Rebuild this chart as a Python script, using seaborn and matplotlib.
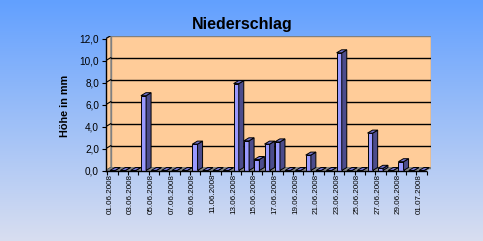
import numpy as np
import matplotlib
matplotlib.use("Agg")
import matplotlib.pyplot as plt
import seaborn as sns
from matplotlib.patches import Polygon, Rectangle

# ---- data ----
dates = ["01.06.2008", "02.06.2008", "03.06.2008", "04.06.2008", "05.06.2008",
         "06.06.2008", "07.06.2008", "08.06.2008", "09.06.2008", "10.06.2008",
         "11.06.2008", "12.06.2008", "13.06.2008", "14.06.2008", "15.06.2008",
         "16.06.2008", "17.06.2008", "18.06.2008", "19.06.2008", "20.06.2008",
         "21.06.2008", "22.06.2008", "23.06.2008", "24.06.2008", "25.06.2008",
         "26.06.2008", "27.06.2008", "28.06.2008", "29.06.2008", "30.06.2008",
         "01.07.2008"]
rain_mm = [0.0, 0.0, 0.0, 6.8, 0.0, 0.0, 0.0, 0.0, 2.4, 0.0,
           0.0, 0.0, 7.9, 2.7, 1.0, 2.4, 2.6, 0.0, 0.0, 1.4,
           0.0, 0.0, 10.7, 0.0, 0.0, 3.4, 0.2, 0.0, 0.8, 0.0,
           0.0]
y_ticks = [0, 2, 4, 6, 8, 10, 12]
title = "Niederschlag"
y_label = "Höhe in mm"

# ---- style ----
sns.set_theme(style="white")
plt.rcParams['font.family'] = ['Liberation Sans', 'DejaVu Sans']

W, H = 483, 241
fig = plt.figure(figsize=(W / 100, H / 100), dpi=100)

# background gradient
bg = fig.add_axes([0, 0, 1, 1], zorder=-10)
t = np.linspace(0, 1, 256)[:, None, None]
c_top = np.array([0x62, 0xA0, 0xFF]) / 255
c_bot = np.array([0xD8, 0xDE, 0xF0]) / 255
img = c_top + (c_bot - c_top) * t
bg.imshow(img, aspect='auto', extent=[0, 1, 0, 1], origin='upper')
bg.axis('off')

# geometry (pixels)
px_x, px_y = 10.3, 11.0
ax_left, ax_right, y_bottom = 106, 431, 170.5
x0 = -0.64
x1 = x0 + (ax_right - ax_left) / px_x
dx = 5 / px_x
dy = 3 / px_y
ymax = 12 + dy
ax_top = y_bottom - ymax * px_y
ax = fig.add_axes([ax_left / W, 1 - y_bottom / H,
                   (ax_right - ax_left) / W, (y_bottom - ax_top) / H])
ax.set_facecolor('none')

front_c = '#9999FF'
side_c = '#4C4C8C'
top_c = '#7373D0'
peach = '#FFCC99'

sns.barplot(x=dates, y=rain_mm, order=dates, width=0.5, color=front_c,
            saturation=1, edgecolor='black', linewidth=0.7, ax=ax, zorder=4)
bars = list(ax.patches)

# walls & floor
ax.add_patch(Rectangle((x0 + dx, dy), x1 - (x0 + dx), 12, facecolor=peach,
                       edgecolor='#808080', linewidth=1, zorder=0))
ax.add_patch(Polygon([(x0, 0), (x0 + dx, dy), (x0 + dx, 12 + dy), (x0, 12)],
                     closed=True, facecolor=peach, edgecolor='#808080',
                     linewidth=1, zorder=0))
ax.add_patch(Polygon([(x0, 0), (x1 - dx, 0), (x1, dy), (x0 + dx, dy)],
                     closed=True, facecolor='#8A8A8A', edgecolor='#808080',
                     linewidth=0.6, zorder=1))
for v in y_ticks[1:-1]:
    ax.plot([x0 + dx, x1], [v + dy, v + dy], color='black', lw=1, zorder=0.5)
for v in y_ticks:
    ax.plot([x0, x0 + dx], [v, v + dy], color='black', lw=0.8, zorder=0.5)

# 3D sides and tops
for i, p in enumerate(bars):
    xl, w, h = p.get_x(), p.get_width(), p.get_height()
    z = 4 + i * 0.01
    ax.add_patch(Polygon([(xl + w, 0), (xl + w + dx, dy), (xl + w + dx, h + dy), (xl + w, h)],
                         closed=True, facecolor=side_c, edgecolor='black',
                         linewidth=0.7, zorder=z))
    ax.add_patch(Polygon([(xl, h), (xl + w, h), (xl + w + dx, h + dy), (xl + dx, h + dy)],
                         closed=True, facecolor=top_c, edgecolor='black',
                         linewidth=0.7, zorder=z))

ax.set_xlim(x0, x1)
ax.set_ylim(0, ymax)
ax.set_xlabel('')
ax.set_ylabel('')

for s in ['top', 'right']:
    ax.spines[s].set_visible(False)
for s in ['left', 'bottom']:
    ax.spines[s].set_visible(True)
    ax.spines[s].set_color('black')
    ax.spines[s].set_linewidth(1)
    ax.spines[s].set_zorder(6)
ax.spines['left'].set_bounds(0, 12)
ax.spines['bottom'].set_bounds(x0, x1 - dx)

pos = np.arange(len(dates))
ax.set_xticks(pos[::2] - 0.25)
ax.set_xticklabels(dates[::2], rotation=90, fontsize=5.8, color='black')
ax.set_xticks(np.append(pos - 0.5, pos[-1] + 0.5), minor=True)
ax.tick_params(axis='x', which='major', length=0, pad=2.5)
ax.tick_params(axis='x', which='minor', length=3, width=0.8, color='black',
               direction='out', bottom=True)
ax.set_yticks(y_ticks)
ax.set_yticklabels([f"{v:.1f}".replace('.', ',') for v in y_ticks],
                   fontsize=7.2, color='black')
ax.tick_params(axis='y', length=3, width=0.8, color='black', direction='out',
               left=True, pad=2)

fig.text(242 / W, 1 - 24 / H, title, ha='center', va='center',
         fontsize=11.5, fontweight='bold', color='black')
fig.text(65 / W, 1 - 105.5 / H, y_label, ha='center', va='center',
         rotation=90, fontsize=7.8, fontweight='bold', color='black')

fig.savefig('out.png', dpi=100)
